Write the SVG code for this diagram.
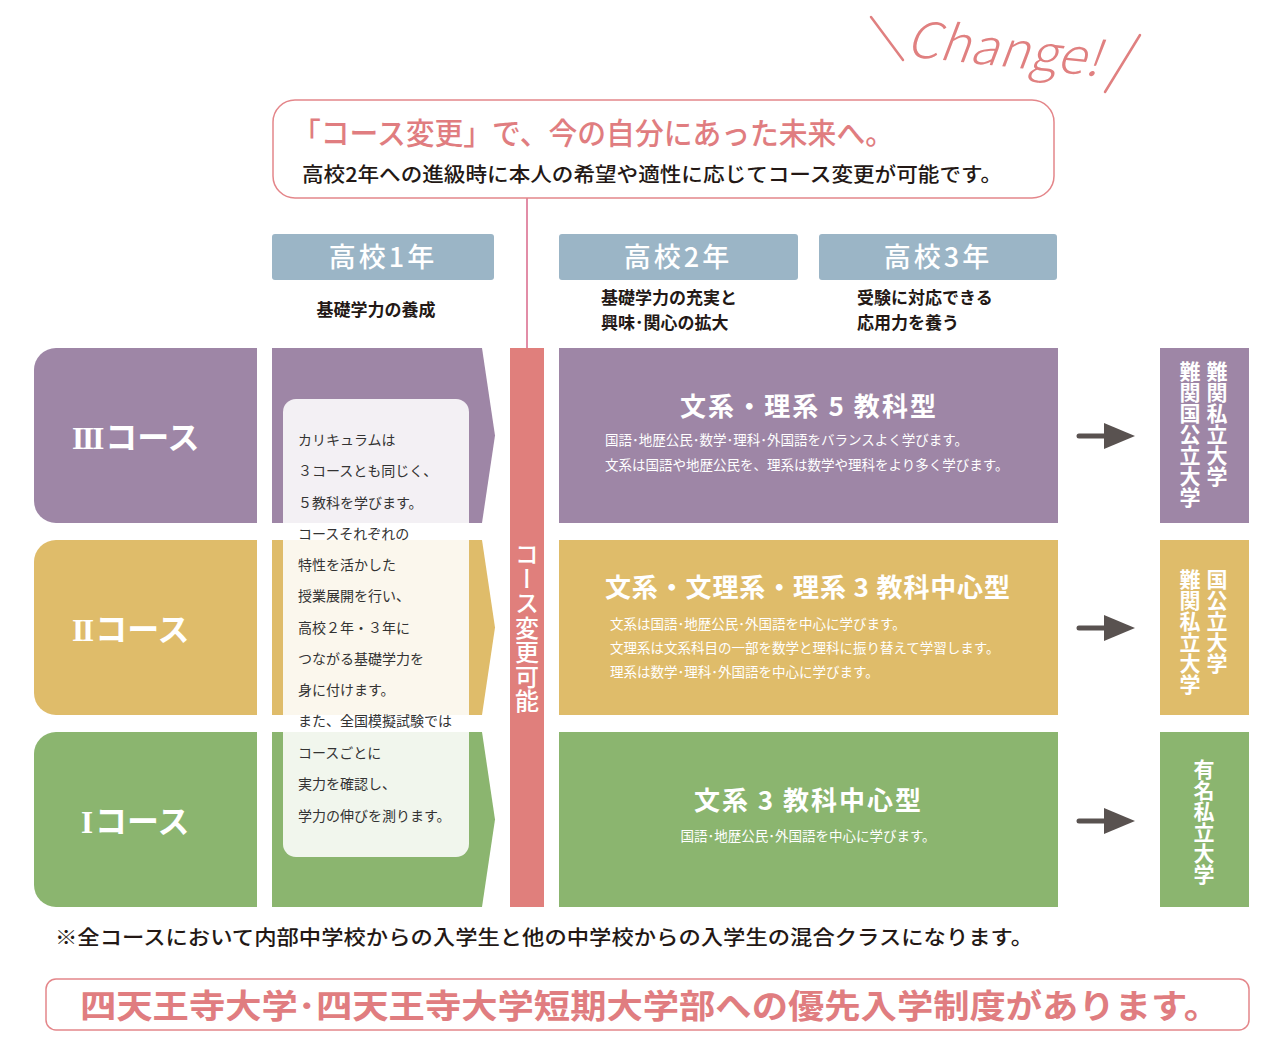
<svg xmlns="http://www.w3.org/2000/svg" width="1280" height="1059" viewBox="0 0 1280 1059">
<defs>
<style>
text{font-family:"Noto Sans CJK JP","Noto Sans",sans-serif;}
.hdr{fill:#9bb5c6;}
.hdrt{fill:#fff;font-size:27px;font-weight:500;text-anchor:middle;letter-spacing:3px;}
.sub{fill:#231815;font-size:17px;font-weight:700;}
.tab{fill:#fff;font-size:32px;font-weight:700;}
.rn{font-family:"Liberation Serif","DejaVu Serif",serif;font-weight:700;font-size:31px;letter-spacing:-2px;}
.ttl{fill:#fff;font-size:26px;font-weight:700;}
.desc{fill:#fff;font-size:13.5px;}
.vt{fill:#fff;font-size:21px;font-weight:700;writing-mode:vertical-rl;text-orientation:upright;}
.pn{fill:#333;font-size:14px;}
.arr{stroke:#595250;stroke-width:5;stroke-linecap:round;fill:none;}
.arh{fill:#595250;}
.purple{fill:#9e86a6;}
.yellow{fill:#dfbc6a;}
.green{fill:#8bb56f;}
</style>
</defs>
<rect width="1280" height="1059" fill="#fff"/>

<g id="change">
<line x1="871" y1="17" x2="903" y2="60" stroke="#e08080" stroke-width="2.5" stroke-linecap="round"/>
<line x1="1140" y1="35" x2="1105" y2="92" stroke="#e08080" stroke-width="2.5" stroke-linecap="round"/>
<text x="905" y="56" transform="rotate(6 905 56)" font-family="'DejaVu Sans',sans-serif" font-style="italic" font-weight="200" font-size="50" fill="#e08080" textLength="195" lengthAdjust="spacingAndGlyphs">Change!</text>
</g>

<g id="connectors">
<line x1="527" y1="198" x2="527" y2="348" stroke="#d9678a" stroke-width="1.5"/>
<g id="arrow3"><line class="arr" x1="1079" y1="436" x2="1108" y2="436"/><polygon class="arh" points="1104,423 1135,436 1104,449"/></g>
<g id="arrow2"><line class="arr" x1="1079" y1="628" x2="1108" y2="628"/><polygon class="arh" points="1104,615 1135,628 1104,641"/></g>
<g id="arrow1"><line class="arr" x1="1079" y1="821" x2="1108" y2="821"/><polygon class="arh" points="1104,808 1135,821 1104,834"/></g>
</g>

<g id="title-box">
<rect x="273" y="100" width="781" height="98" rx="22" fill="#fff" stroke="#e4868a" stroke-width="1.5"/>
<text x="292" y="144" font-size="30" font-weight="500" fill="#e07d80" textLength="602" lengthAdjust="spacingAndGlyphs">「コース変更」で、今の自分にあった未来へ。</text>
<text x="302" y="182" font-size="20" font-weight="500" fill="#231815" textLength="700" lengthAdjust="spacingAndGlyphs">高校2年への進級時に本人の希望や適性に応じてコース変更が可能です。</text>
</g>

<g id="year1">
<rect class="hdr" x="272" y="234" width="222" height="46" rx="3"/>
<text class="hdrt" x="383" y="267">高校1年</text>
<text class="sub" x="376" y="316" text-anchor="middle">基礎学力の養成</text>
</g>
<g id="year2">
<rect class="hdr" x="559" y="234" width="239" height="46" rx="3"/>
<text class="hdrt" x="678" y="267">高校2年</text>
<text class="sub" x="601" y="304">基礎学力の充実と</text>
<text class="sub" x="601" y="329">興味･関心の拡大</text>
</g>
<g id="year3">
<rect class="hdr" x="819" y="234" width="238" height="46" rx="3"/>
<text class="hdrt" x="938" y="267">高校3年</text>
<text class="sub" x="857" y="304">受験に対応できる</text>
<text class="sub" x="857" y="329">応用力を養う</text>
</g>

<g id="tab3"><path class="purple" d="M257,348 V523 H56 A22,22 0 0 1 34,501 V370 A22,22 0 0 1 56,348 Z"/><text class="tab" x="72" y="449"><tspan class="rn">III</tspan><tspan dx="3">コース</tspan></text></g>
<g id="tab2"><path class="yellow" d="M257,540 V715 H56 A22,22 0 0 1 34,693 V562 A22,22 0 0 1 56,540 Z"/><text class="tab" x="72" y="641"><tspan class="rn">II</tspan><tspan dx="3">コース</tspan></text></g>
<g id="tab1"><path class="green" d="M257,732 V907 H56 A22,22 0 0 1 34,885 V754 A22,22 0 0 1 56,732 Z"/><text class="tab" x="81" y="833"><tspan class="rn">I</tspan><tspan dx="4">コース</tspan></text></g>

<g id="chevron3"><path class="purple" d="M272,348 H482 L495,435.5 L482,523 H272 Z"/></g>
<g id="chevron2"><path class="yellow" d="M272,540 H482 L495,627.5 L482,715 H272 Z"/></g>
<g id="chevron1"><path class="green" d="M272,732 H482 L495,819.5 L482,907 H272 Z"/></g>

<g id="panel">
<rect x="283" y="399" width="186" height="458" rx="13" fill="#fff" fill-opacity="0.88"/>
<text class="pn" x="298" y="445">カリキュラムは</text>
<text class="pn" x="298" y="476">３コースとも同じく、</text>
<text class="pn" x="298" y="508">５教科を学びます。</text>
<text class="pn" x="298" y="539">コースそれぞれの</text>
<text class="pn" x="298" y="570">特性を活かした</text>
<text class="pn" x="298" y="601">授業展開を行い、</text>
<text class="pn" x="298" y="633">高校２年・３年に</text>
<text class="pn" x="298" y="664">つながる基礎学力を</text>
<text class="pn" x="298" y="695">身に付けます。</text>
<text class="pn" x="298" y="726">また、全国模擬試験では</text>
<text class="pn" x="298" y="758">コースごとに</text>
<text class="pn" x="298" y="789">実力を確認し、</text>
<text class="pn" x="298" y="821">学力の伸びを測ります。</text>
</g>

<g id="change-bar">
<rect x="510" y="348" width="34" height="559" fill="#e07f7c"/>
<text x="527" y="542" fill="#fff" font-size="24" font-weight="500" style="writing-mode:vertical-rl;text-orientation:upright;" letter-spacing="0.5">コース変更可能</text>
</g>

<g id="course3">
<rect class="purple" x="559" y="348" width="499" height="175"/>
<text class="ttl" x="680" y="416" textLength="256">文系・理系 5 教科型</text>
<text class="desc" x="605" y="445">国語･地歴公民･数学･理科･外国語をバランスよく学びます。</text>
<text class="desc" x="605" y="470">文系は国語や地歴公民を、理系は数学や理科をより多く学びます。</text>
</g>
<g id="course2">
<rect class="yellow" x="559" y="540" width="499" height="175"/>
<text class="ttl" x="605" y="597" textLength="405">文系・文理系・理系 3 教科中心型</text>
<text class="desc" x="610" y="629">文系は国語･地歴公民･外国語を中心に学びます。</text>
<text class="desc" x="610" y="653">文理系は文系科目の一部を数学と理科に振り替えて学習します。</text>
<text class="desc" x="610" y="677">理系は数学･理科･外国語を中心に学びます。</text>
</g>
<g id="course1">
<rect class="green" x="559" y="732" width="499" height="175"/>
<text class="ttl" x="694" y="810" textLength="227">文系 3 教科中心型</text>
<text class="desc" x="808" y="841" text-anchor="middle">国語･地歴公民･外国語を中心に学びます。</text>
</g>

<g id="dest3">
<rect class="purple" x="1160" y="348" width="89" height="175"/>
<text class="vt" x="1217" y="361">難関私立大学</text>
<text class="vt" x="1190" y="361">難関国公立大学</text>
</g>
<g id="dest2">
<rect class="yellow" x="1160" y="540" width="89" height="175"/>
<text class="vt" x="1217" y="569">国公立大学</text>
<text class="vt" x="1190" y="569">難関私立大学</text>
</g>
<g id="dest1">
<rect class="green" x="1160" y="732" width="89" height="175"/>
<text class="vt" x="1204" y="759">有名私立大学</text>
</g>

<g id="footnote">
<text x="55" y="945" font-size="20.5" font-weight="500" fill="#231815" textLength="978" lengthAdjust="spacingAndGlyphs">※全コースにおいて内部中学校からの入学生と他の中学校からの入学生の混合クラスになります。</text>
</g>

<g id="bottom-box">
<rect x="46" y="979" width="1203" height="51" rx="10" fill="#fff" stroke="#e4868a" stroke-width="1.5"/>
<text x="80" y="1018" font-size="33" font-weight="700" fill="#e07d80" textLength="1140" lengthAdjust="spacingAndGlyphs">四天王寺大学･四天王寺大学短期大学部への優先入学制度があります。</text>
</g>
</svg>
